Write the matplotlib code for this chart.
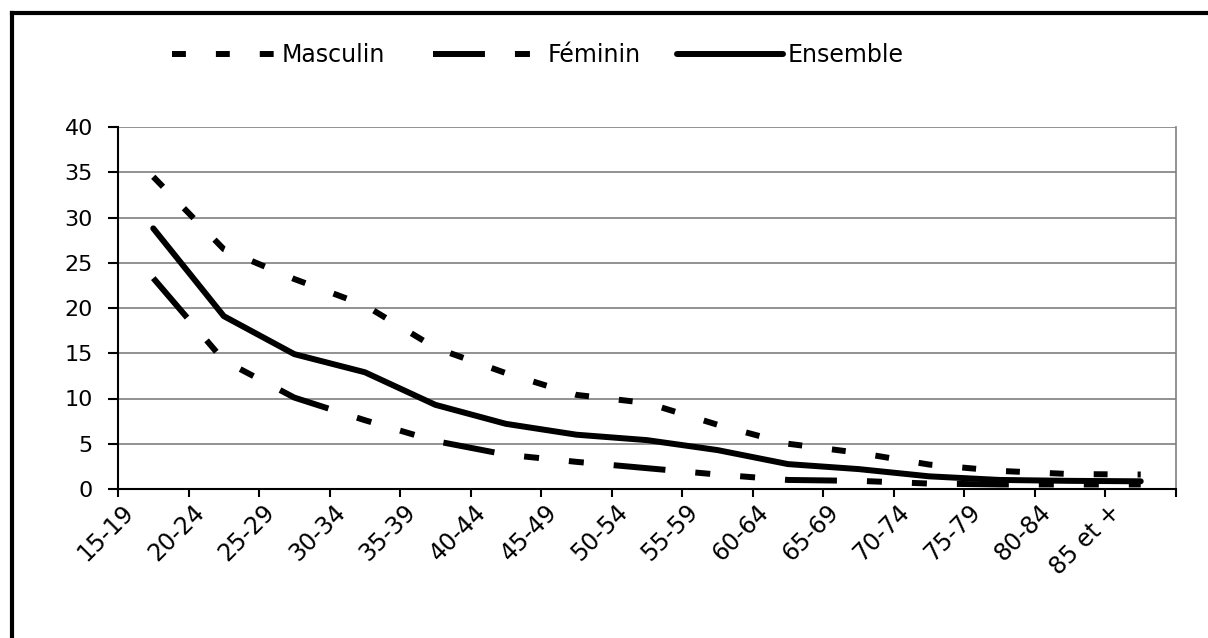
import numpy as np
import matplotlib
matplotlib.use("Agg")
import matplotlib.pyplot as plt
from matplotlib.lines import Line2D

plt.rcParams['font.family'] = ['DejaVu Sans']
plt.rcParams['lines.scale_dashes'] = False

categories = ['15-19', '20-24', '25-29', '30-34', '35-39', '40-44', '45-49', '50-54',
              '55-59', '60-64', '65-69', '70-74', '75-79', '80-84', '85 et +']
masculin = [34.5, 26.5, 23.2, 20.3, 15.6, 12.8, 10.4, 9.5, 7.1, 5.0, 4.0, 2.7, 2.0, 1.65, 1.6]
feminin = [23.3, 14.2, 10.1, 7.6, 5.3, 3.8, 3.0, 2.3, 1.6, 1.0, 0.9, 0.6, 0.5, 0.5, 0.5]
ensemble = [28.8, 19.1, 14.9, 12.9, 9.3, 7.2, 6.0, 5.4, 4.3, 2.75, 2.2, 1.4, 1.0, 0.9, 0.85]
yticks = [0, 5, 10, 15, 20, 25, 30, 35, 40]

W, H = 1208, 638
fig = plt.figure(figsize=(W / 100, H / 100), dpi=100)
ax = fig.add_axes([118 / W, 1 - 489 / H, (1176 - 118) / W, (489 - 127) / H])

x = np.arange(len(categories)) + 0.5
lw = 4.3
lm, = ax.plot(x, masculin, color='black', lw=lw, linestyle=(0, (10, 21.6)),
              dash_capstyle='butt', label='Masculin', zorder=3)
lf, = ax.plot(x, feminin, color='black', lw=lw,
              linestyle=(0, (37.4, 21.6, 10.8, 21.6, 10.8, 21.6)),
              dash_capstyle='butt', label='Féminin', zorder=3)
le, = ax.plot(x, ensemble, color='black', lw=lw, solid_capstyle='round',
              solid_joinstyle='round', label='Ensemble', zorder=3)

ax.set_xlim(0, len(categories))
ax.set_ylim(0, 40)
ax.set_yticks(yticks)
ax.set_yticklabels([str(v) for v in yticks], fontsize=16)
ax.set_xticks(np.arange(len(categories) + 1))
ax.set_xticklabels([])
ax.yaxis.grid(True, color='#7f7f7f', lw=1.2)
ax.set_axisbelow(True)

for s in ['left', 'bottom']:
    ax.spines[s].set_color('black')
    ax.spines[s].set_linewidth(1.5)
ax.spines['top'].set_visible(False)
ax.spines['right'].set_color('#7f7f7f')
ax.spines['right'].set_linewidth(1.2)
ax.tick_params(axis='y', direction='out', length=7, width=1.5, pad=11)
ax.tick_params(axis='x', direction='out', length=6, width=1.5)

for i, lab in enumerate(categories):
    ax.text(i + 0.05, -0.03, lab, transform=ax.get_xaxis_transform(),
            rotation=45, ha='right', va='top', rotation_mode='anchor', fontsize=17)

fs = 17
for handle, x0, hl in [(lm, 172, 4.45), (lf, 433, 4.66), (le, 677, 4.5)]:
    fig.legend(handles=[handle], loc='center left', bbox_to_anchor=(x0 / W, 1 - 55 / H),
               bbox_transform=fig.transFigure, frameon=False,
               handlelength=hl, handletextpad=0.2,
               borderpad=0, borderaxespad=0, fontsize=fs)

fig.add_artist(Line2D([12 / W, 12 / W], [0, 1 - 13 / H], transform=fig.transFigure,
                      color='black', lw=3, solid_capstyle='projecting'))
fig.add_artist(Line2D([12 / W, 1], [1 - 13 / H, 1 - 13 / H], transform=fig.transFigure,
                      color='black', lw=3, solid_capstyle='projecting'))

fig.savefig('out.png', dpi=100)
